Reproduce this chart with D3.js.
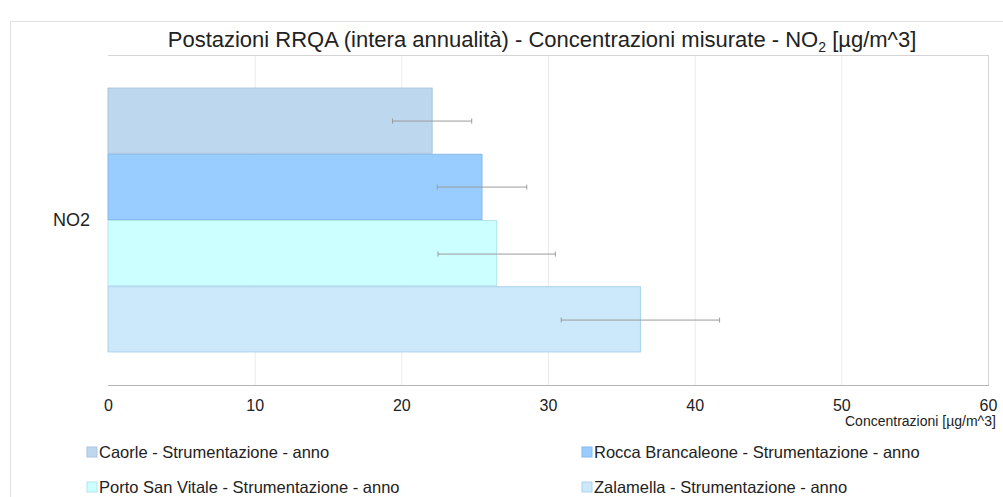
<!DOCTYPE html>
<html>
<head>
<meta charset="utf-8">
<script src="https://cdn.jsdelivr.net/npm/d3@7"></script>
<style>
  body { margin: 0; background: #fff; }
  svg { display: block; font-family: "Liberation Sans", Arial, sans-serif; }
</style>
</head>
<body>
<svg id="chart" width="1003" height="497"></svg>
<script>
// data
const categories = ['NO2'];
const stations = [
  'Caorle - Strumentazione - anno',
  'Rocca Brancaleone - Strumentazione - anno',
  'Porto San Vitale - Strumentazione - anno',
  'Zalamella - Strumentazione - anno'
];
const values = [22.1, 25.5, 26.5, 36.3];
const errors = [2.7, 3.05, 4.0, 5.4];
const fills = ['#bdd7ee', '#99ccff', '#ccffff', '#cce9fb'];
const strokes = ['#a9c4df', '#86b9ec', '#b2e6ea', '#a9d2ec'];
const xTicks = [0, 10, 20, 30, 40, 50, 60];

const svg = d3.select('#chart');
const W = 1003, H = 497;
const plot = {left: 108, right: 988, top: 55, bottom: 385};

// outer frame
svg.append('path')
  .attr('d', `M10.5,${H} L10.5,21.5 L${W},21.5`)
  .attr('fill', 'none')
  .attr('stroke', '#e2e2e2');

const x = d3.scaleLinear().domain([0, 60]).range([plot.left, plot.right]);
const y = d3.scaleBand().domain(categories).range([plot.top, plot.bottom]).paddingOuter(0.123);
const yInner = d3.scaleBand().domain(stations).range([0, y.bandwidth()]);

// gridlines
svg.append('g').selectAll('line')
  .data(xTicks.slice(1))
  .enter().append('line')
  .attr('x1', d => x(d) + 0.5).attr('x2', d => x(d) + 0.5)
  .attr('y1', plot.top).attr('y2', plot.bottom)
  .attr('stroke', '#ebebeb');

// plot frame: top, right
svg.append('path')
  .attr('d', `M${plot.left},${plot.top + 0.5} L${plot.right + 0.5},${plot.top + 0.5} L${plot.right + 0.5},${plot.bottom}`)
  .attr('fill', 'none')
  .attr('stroke', '#d4d4d4');

// bars
const group = svg.append('g').selectAll('g')
  .data(categories)
  .enter().append('g')
  .attr('transform', d => 'translate(0,' + y(d) + ')');

group.selectAll('rect')
  .data(stations)
  .enter().append('rect')
  .attr('x', x(0))
  .attr('y', d => yInner(d) + 0.5)
  .attr('width', (d, i) => x(values[i]) - x(0))
  .attr('height', yInner.bandwidth() - 1)
  .attr('fill', (d, i) => fills[i])
  .attr('stroke', (d, i) => strokes[i])
  .attr('stroke-width', 1);

// error bars
const err = group.selectAll('.err')
  .data(stations)
  .enter().append('g')
  .attr('class', 'err')
  .attr('transform', d => 'translate(0,' + Math.round(yInner(d) + yInner.bandwidth() / 2) + ')');

err.append('line')
  .attr('x1', (d, i) => x(values[i] - errors[i]))
  .attr('x2', (d, i) => x(values[i] + errors[i]))
  .attr('y1', 0.5).attr('y2', 0.5)
  .attr('stroke', '#9a9a9a');

err.selectAll('.cap')
  .data((d, i) => [values[i] - errors[i], values[i] + errors[i]])
  .enter().append('line')
  .attr('x1', v => x(v)).attr('x2', v => x(v))
  .attr('y1', -2).attr('y2', 3)
  .attr('stroke', '#9a9a9a');

// x axis line
svg.append('line')
  .attr('x1', plot.left).attr('x2', plot.right + 1)
  .attr('y1', plot.bottom + 0.5).attr('y2', plot.bottom + 0.5)
  .attr('stroke', '#b5b5b5');

const xAxis = svg.append('g')
  .attr('transform', 'translate(0,' + plot.bottom + ')')
  .call(d3.axisBottom(x).tickValues(xTicks).tickSize(0).tickPadding(15));
xAxis.select('.domain').remove();
xAxis.selectAll('text')
  .attr('fill', '#222')
  .style('font-size', '16px')
  .style('font-family', '"Liberation Sans", Arial, sans-serif');

// category label
svg.append('text')
  .attr('x', plot.left - 18)
  .attr('y', y('NO2') + y.bandwidth() / 2)
  .attr('dy', '0.35em')
  .attr('text-anchor', 'end')
  .attr('fill', '#222')
  .style('font-size', '18px')
  .text('NO2');

// axis title
svg.append('text')
  .attr('x', 845)
  .attr('y', 426)
  .attr('fill', '#222')
  .style('font-size', '14px')
  .text('Concentrazioni [µg/m^3]');

// chart title
const title = svg.append('text')
  .attr('x', 542)
  .attr('y', 47)
  .attr('text-anchor', 'middle')
  .attr('fill', '#222')
  .style('font-size', '22px');
title.append('tspan').text('Postazioni RRQA (intera annualità) - Concentrazioni misurate - NO');
title.append('tspan').attr('dy', 5).style('font-size', '14px').text('2');
title.append('tspan').attr('dy', -5).text(' [µg/m^3]');

// legend
const legend = svg.append('g').selectAll('g')
  .data(stations)
  .enter().append('g')
  .attr('transform', (d, i) => 'translate(' + [87, 582][i % 2] + ',' + [452, 487][Math.floor(i / 2)] + ')');

legend.append('rect')
  .attr('x', 0).attr('y', -5)
  .attr('width', 10).attr('height', 10)
  .attr('fill', (d, i) => fills[i])
  .attr('stroke', (d, i) => strokes[i]);

legend.append('text')
  .attr('x', 12)
  .attr('dy', '0.35em')
  .attr('fill', '#222')
  .style('font-size', '16.5px')
  .text(d => d);
</script>
</body>
</html>
